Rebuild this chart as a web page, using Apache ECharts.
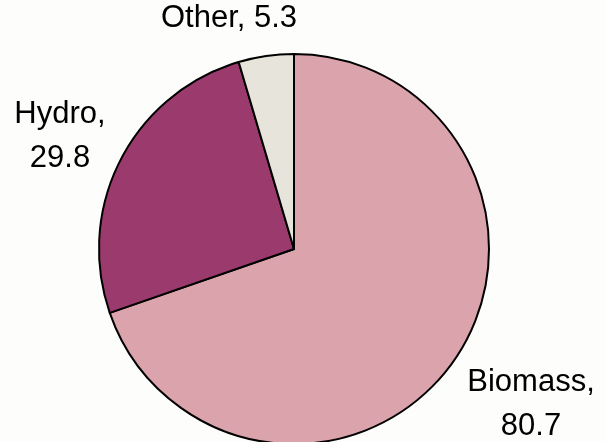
<!DOCTYPE html>
<html><head><meta charset="utf-8">
<script src="https://cdn.jsdelivr.net/npm/echarts@6/dist/echarts.min.js"></script>
<style>html,body{margin:0;padding:0;background:#fdfdfb}#c{width:605px;height:442px}</style>
</head><body><div id="c"></div>
<script>
const categories = ['Biomass', 'Hydro', 'Other'];
const values = [80.7, 29.8, 5.3];
const colors = ['#dba3ab', '#9b3b6d', '#e7e5db'];
const labelPos = [
  {x: 531, y: 404},
  {x: 60, y: 136},
  {x: 229, y: 18}
];
const chart = echarts.init(document.getElementById('c'));
chart.setOption({
  backgroundColor: '#fdfdfb',
  animation: false,
  series: [{
    type: 'pie',
    center: [294, 249],
    radius: 195,
    startAngle: 90,
    clockwise: true,
    data: categories.map((n, i) => ({name: n, value: values[i], itemStyle: {color: colors[i]}})),
    itemStyle: {borderColor: '#000', borderWidth: 2},
    label: {
      show: true,
      position: 'outside',
      formatter: p => p.dataIndex === 2 ? p.name + ', ' + p.value : p.name + ',\n' + p.value,
      fontFamily: 'Liberation Sans, Arial',
      fontSize: 31,
      lineHeight: 44,
      color: '#000',
      align: 'center',
      overflow: 'none'
    },
    labelLine: {show: false},
    labelLayout: p => ({x: labelPos[p.dataIndex].x, y: labelPos[p.dataIndex].y, align: 'center', verticalAlign: 'middle', hideOverlap: false}),
    emphasis: {disabled: true}
  }]
});
</script></body></html>
